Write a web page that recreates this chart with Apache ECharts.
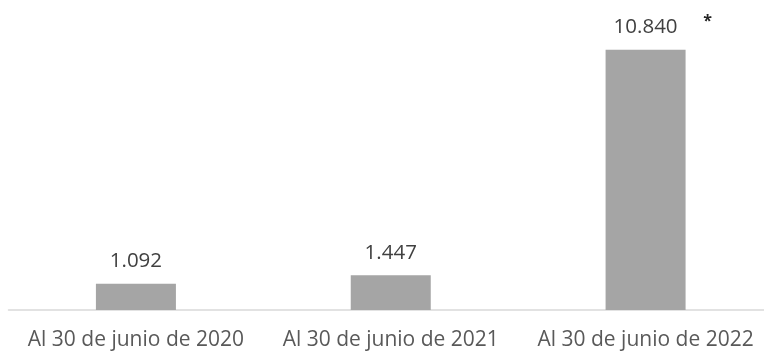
<!DOCTYPE html>
<html>
<head>
<meta charset="utf-8">
<style>html,body{margin:0;padding:0;background:#fff;overflow:hidden;width:764px;height:354px}#c{width:773px;height:354px}</style>
<script src="https://cdn.jsdelivr.net/npm/echarts@6/dist/echarts.min.js"></script>
</head>
<body>
<div id="c"></div>
<script>
const categories = ["Al 30 de junio de 2020", "Al 30 de junio de 2021", "Al 30 de junio de 2022"];
const values = [1092, 1447, 10840];
const noteMark = "*";

const fmt = v => String(v).replace(/\B(?=(\d{3})+(?!\d))/g, ".");

const chart = echarts.init(document.getElementById('c'));
const option = {
  animation: false,
  textStyle: { fontFamily: "Open Sans" },
  grid: { left: 8.5, right: 0, top: 22, bottom: 44, containLabel: false },
  xAxis: {
    type: 'category',
    data: categories,
    axisTick: { show: false },
    axisLine: { lineStyle: { color: '#d9d9d9', width: 1.5 } },
    axisLabel: { color: '#595959', fontSize: 21, margin: 20, interval: 0, hideOverlap: false, fontFamily: "Open Sans" }
  },
  yAxis: {
    type: 'value', min: 0, max: 12000,
    show: false, splitLine: { show: false }
  },
  series: [{
    type: 'bar',
    data: values,
    barWidth: 80,
    itemStyle: { color: '#a5a5a5' },
    label: {
      show: true, position: 'top', distance: 12,
      color: '#404040', fontSize: 20.5, fontFamily: "Open Sans",
      formatter: p => fmt(p.value)
    }
  }]
};
chart.setOption(option);
const pt = chart.convertToPixel({ seriesIndex: 0 }, [2, values[2]]);
chart.setOption({
  graphic: [{
    type: 'text',
    x: pt[0] + 62, y: pt[1] - 28,
    style: { text: noteMark, fontSize: 16, fontWeight: 'bold', fill: '#262626', align: 'center', verticalAlign: 'middle', fontFamily: "Open Sans" }
  }]
});
</script>
</body>
</html>
